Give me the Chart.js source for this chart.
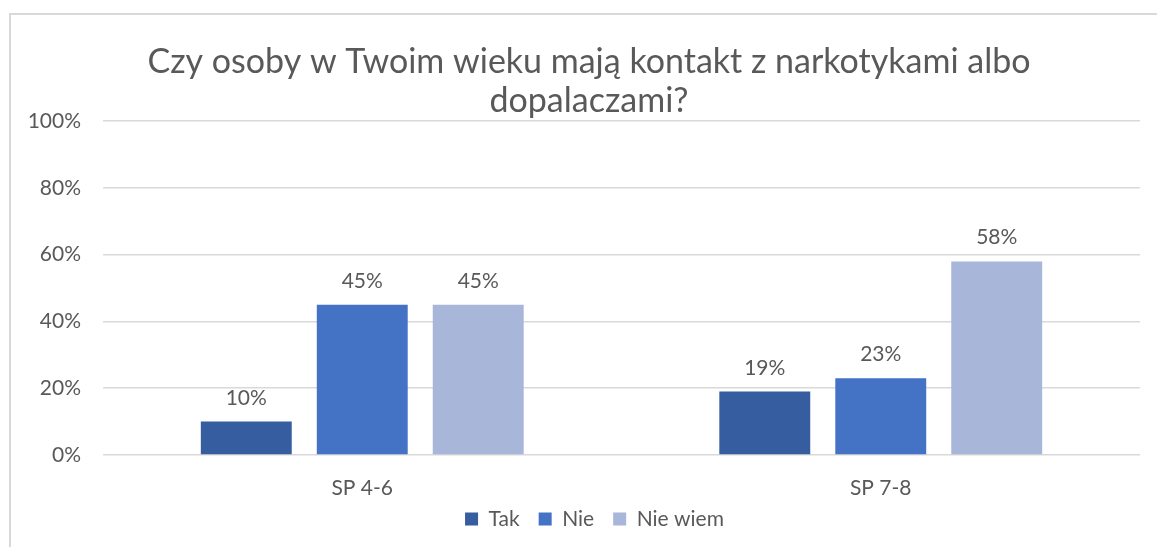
<!DOCTYPE html>
<html>
<head>
<meta charset="utf-8">
<script src="https://cdn.jsdelivr.net/npm/chart.js@4.4.1/dist/chart.umd.min.js"></script>
<style>
  html, body { margin: 0; padding: 0; background: #ffffff; overflow: hidden; }
  #frame { position: absolute; left: 9px; top: 13px; width: 1400px; height: 800px;
           border-top: 2px solid #d9d9d9; border-left: 2px solid #d9d9d9; }
  #wrap { position: absolute; left: 0; top: 0; width: 1157px; height: 547px; }
</style>
</head>
<body>
<div id="frame"></div>
<div id="wrap"><canvas id="c" width="1157" height="547"></canvas></div>
<script>
const titleLines = ["Czy osoby w Twoim wieku mają kontakt z narkotykami albo", "dopalaczami?"];
const categories = ["SP 4-6", "SP 7-8"];
const seriesNames = ["Tak", "Nie", "Nie wiem"];
const takValues = [10, 19];
const nieValues = [45, 23];
const nieWiemValues = [45, 58];
const yTicks = [0, 20, 40, 60, 80, 100];

const colors = ["#355d9f", "#4472c4", "#a8b6da"];
const textColor = "#595959";
const fontFamily = "Lato, 'Open Sans', sans-serif";

const valueLabels = {
  id: 'valueLabels',
  afterDatasetsDraw(chart) {
    const ctx = chart.ctx;
    ctx.save();
    ctx.font = "21px " + fontFamily;
    ctx.fillStyle = textColor;
    ctx.textAlign = "center";
    ctx.textBaseline = "alphabetic";
    chart.data.datasets.forEach((ds, i) => {
      const meta = chart.getDatasetMeta(i);
      meta.data.forEach((bar, j) => {
        ctx.fillText(ds.data[j] + "%", bar.x, bar.y - 17);
      });
    });
    ctx.restore();
  }
};

const boxTweaks = {
  id: 'boxTweaks',
  beforeLayout(chart) {
    const lg = chart.legend;
    if (lg && !lg._patched) {
      const orig = lg.fit.bind(lg);
      lg.fit = function() { orig(); this.height = 40; };
      lg._patched = true;
    }
  },
  afterLayout(chart) {
    const t = chart.titleBlock;
    if (t) { t.left = 38; t.right = 1140; }
    const lg = chart.legend;
    if (lg) {
      lg.left = 49; lg.right = 1140;
      lg.top = 489.5; lg.bottom = lg.top + 40;
    }
  }
};

new Chart(document.getElementById('c'), {
  type: 'bar',
  data: {
    labels: categories,
    datasets: [
      { label: seriesNames[0], data: takValues, backgroundColor: colors[0] },
      { label: seriesNames[1], data: nieValues, backgroundColor: colors[1] },
      { label: seriesNames[2], data: nieWiemValues, backgroundColor: colors[2] }
    ]
  },
  options: {
    responsive: false,
    animation: false,
    devicePixelRatio: 1,
    categoryPercentage: 0.671,
    barPercentage: 0.784,
    layout: { padding: { left: 10, right: 17, top: 14, bottom: 5 } },
    plugins: {
      title: {
        display: true,
        text: titleLines,
        color: textColor,
        font: { family: fontFamily, size: 34, weight: 'normal', lineHeight: 1.15 },
        padding: { top: 28, bottom: 1 }
      },
      legend: {
        position: 'bottom',
        labels: {
          color: textColor,
          font: { family: fontFamily, size: 21 },
          boxWidth: 13,
          boxHeight: 13,
          padding: 19
        }
      },
      tooltip: { enabled: false }
    },
    scales: {
      x: {
        grid: { display: false, drawTicks: false },
        border: { display: false },
        ticks: { color: textColor, font: { family: fontFamily, size: 21 }, padding: 21 },
        afterFit(scale) { scale.height = 47; }
      },
      y: {
        min: 0, max: 100,
        afterBuildTicks(scale) { scale.ticks = yTicks.map(v => ({ value: v })); },
        grid: { color: "#d9d9d9", lineWidth: 1.5, drawTicks: false },
        border: { display: false },
        ticks: {
          color: textColor,
          font: { family: fontFamily, size: 21 },
          padding: 22,
          callback: v => v + "%"
        },
        afterFit(scale) { scale.width = 93; }
      }
    }
  },
  plugins: [valueLabels, boxTweaks]
});
</script>
</body>
</html>
